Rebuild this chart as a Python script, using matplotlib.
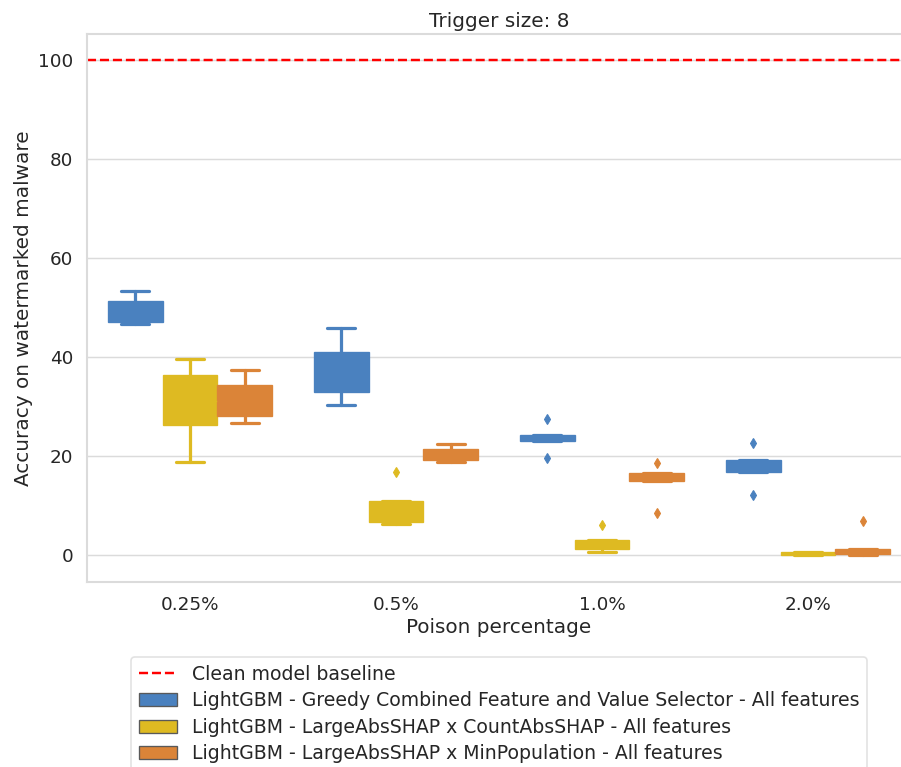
import numpy as np
import matplotlib
matplotlib.use("Agg")
import matplotlib.pyplot as plt
import seaborn as sns
from matplotlib.patches import Patch
from matplotlib.lines import Line2D

sns.set_theme(context="talk", style="whitegrid")
plt.rcParams["font.family"] = ["DejaVu Sans"]

# ---------------- data ----------------
categories = ["0.25%", "0.5%", "1.0%", "2.0%"]
series_names = [
    "LightGBM - Greedy Combined Feature and Value Selector - All features",
    "LightGBM - LargeAbsSHAP x CountAbsSHAP - All features",
    "LightGBM - LargeAbsSHAP x MinPopulation - All features",
]
colors = ["#4a81bf", "#deba22", "#db8438"]
baseline_value = 100
baseline_label = "Clean model baseline"

greedy_lo = [46.6, 30.2, 23.0, 16.7]
greedy_q1 = [47.0, 32.9, 23.0, 16.7]
greedy_med = [49.0, 36.0, 23.6, 18.0]
greedy_q3 = [51.4, 41.1, 24.3, 19.2]
greedy_hi = [53.3, 45.8, 24.3, 19.2]
greedy_fliers = [[], [], [27.5, 19.5], [22.7, 12.0]]

count_lo = [18.8, 6.3, 0.55, 0.0]
count_q1 = [26.3, 6.6, 1.15, 0.0]
count_med = [31.0, 8.0, 2.0, 0.2]
count_q3 = [36.4, 10.8, 2.9, 0.5]
count_hi = [39.5, 10.8, 2.9, 0.5]
count_fliers = [[], [16.7], [6.1], []]

minpop_lo = [26.6, 18.8, 15.0, 0.0]
minpop_q1 = [28.0, 19.1, 15.0, 0.15]
minpop_med = [31.0, 20.0, 15.8, 0.6]
minpop_q3 = [34.4, 21.3, 16.5, 1.2]
minpop_hi = [37.4, 22.5, 16.5, 1.2]
minpop_fliers = [[], [], [18.5, 8.4], [6.9]]

yticks = [0, 20, 40, 60, 80, 100]
title = "Trigger size: 8"
xlabel = "Poison percentage"
ylabel = "Accuracy on watermarked malware"

# ---------------- plot ----------------
W, H, DPI = 901, 767, 80
fig = plt.figure(figsize=(W / DPI, H / DPI), dpi=DPI)
ax = fig.add_axes([87 / W, 1 - 582 / H, 824 / W, 548 / H])

all_series = [
    (greedy_lo, greedy_q1, greedy_med, greedy_q3, greedy_hi, greedy_fliers),
    (count_lo, count_q1, count_med, count_q3, count_hi, count_fliers),
    (minpop_lo, minpop_q1, minpop_med, minpop_q3, minpop_hi, minpop_fliers),
]
n = len(all_series)
group_width = 0.8
box_w = group_width / n
base = np.arange(len(categories))

for i, (lo, q1, med, q3, hi, fl) in enumerate(all_series):
    c = colors[i]
    stats = []
    for j in range(len(categories)):
        stats.append(dict(whislo=lo[j], q1=q1[j], med=med[j], q3=q3[j],
                          whishi=hi[j], fliers=fl[j]))
    offset = -group_width / 2 + box_w * (i + 0.5)
    ax.bxp(stats, positions=base + offset, widths=box_w, patch_artist=True,
           showfliers=True, manage_ticks=False,
           boxprops=dict(facecolor=c, edgecolor=c, linewidth=1.2),
           whiskerprops=dict(color=c, linewidth=2.9),
           capprops=dict(color=c, linewidth=2.9),
           medianprops=dict(color=c, linewidth=1.2),
           flierprops=dict(marker="d", markerfacecolor=c, markeredgecolor=c,
                           markersize=6.5, linestyle="none"))

ax.axhline(baseline_value, color="red", linestyle="--", linewidth=2.2)

ax.set_xlim(-0.5, len(categories) - 0.5)
ax.set_ylim(-5.5, 105.3)
ax.set_xticks(base)
ax.set_xticklabels(categories)
ax.set_yticks(yticks)
ax.xaxis.grid(False)
ax.yaxis.grid(True, color="0.86", linewidth=1.3)
for sp in ax.spines.values():
    sp.set_color("0.86")
ax.set_axisbelow(True)
ax.set_title(title)
ax.set_xlabel(xlabel)
ax.set_ylabel(ylabel)

handles = [Line2D([0], [0], color="red", linestyle="--", linewidth=2.2)]
labels = [baseline_label]
for i, name in enumerate(series_names):
    handles.append(Patch(facecolor=colors[i], edgecolor="0.35", linewidth=1.2))
    labels.append(name)
leg = ax.legend(handles, labels, loc="upper center", bbox_to_anchor=(0.5, -0.12),
                labelspacing=0.4, fontsize=17, frameon=True)
leg.get_frame().set_edgecolor("0.86")

fig.savefig("out.png", dpi=DPI)
